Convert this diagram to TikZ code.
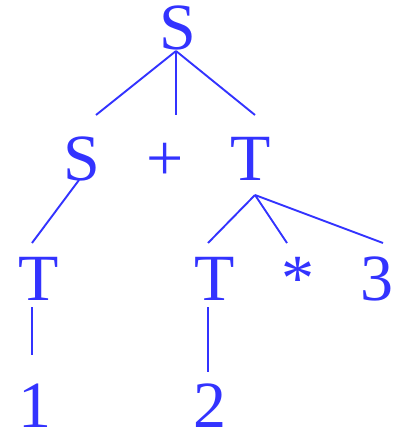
\documentclass[tikz,border=0pt]{standalone}
\usepackage{fontspec}
\setmainfont{Liberation Serif}
\definecolor{treeblue}{RGB}{51,51,255}
\begin{document}
\begin{tikzpicture}[x=1pt,y=-1pt,
  lbl/.style={anchor=base, inner sep=0pt, text=treeblue, font=\fontsize{66}{66}\selectfont},
  edge/.style={draw=treeblue, line width=1.9pt}]
\useasboundingbox (0,0) rectangle (395,433);
% labels
\node[lbl] (s0) at (178,50) {S};
\node[lbl] (s1) at (82,180) {S};
\node[lbl] (plus) at (165,180) {+};
\node[lbl] (t1) at (251,180) {T};
\node[lbl] (t2) at (38.5,300) {T};
\node[lbl] (t3) at (215,300) {T};
\node[lbl] (star) at (298,300) {*};
\node[lbl] (three) at (376.5,300) {3};
\node[lbl] (one) at (35,427) {1};
\node[lbl] (two) at (210,427) {2};
% connector ends
\coordinate (s0b) at (176,51);
\coordinate (s1t) at (96,115);
\coordinate (plust) at (176,115);
\coordinate (t1t) at (255,115);
\coordinate (s1b) at (79,180);
\coordinate (t2t) at (32,243);
\coordinate (t1b) at (255,195);
\coordinate (t3t) at (208,243);
\coordinate (start) at (287,243);
\coordinate (threet) at (383,243);
\coordinate (t2b) at (32,307);
\coordinate (onet) at (32,355);
\coordinate (t3b) at (208,307);
\coordinate (twot) at (208,372);
% connectors
\draw[edge] (s0b) -- (s1t);
\draw[edge] (s0b) -- (plust);
\draw[edge] (s0b) -- (t1t);
\draw[edge] (s1b) -- (t2t);
\draw[edge] (t1b) -- (t3t);
\draw[edge] (t1b) -- (start);
\draw[edge] (t1b) -- (threet);
\draw[edge] (t2b) -- (onet);
\draw[edge] (t3b) -- (twot);
\end{tikzpicture}
\end{document}
